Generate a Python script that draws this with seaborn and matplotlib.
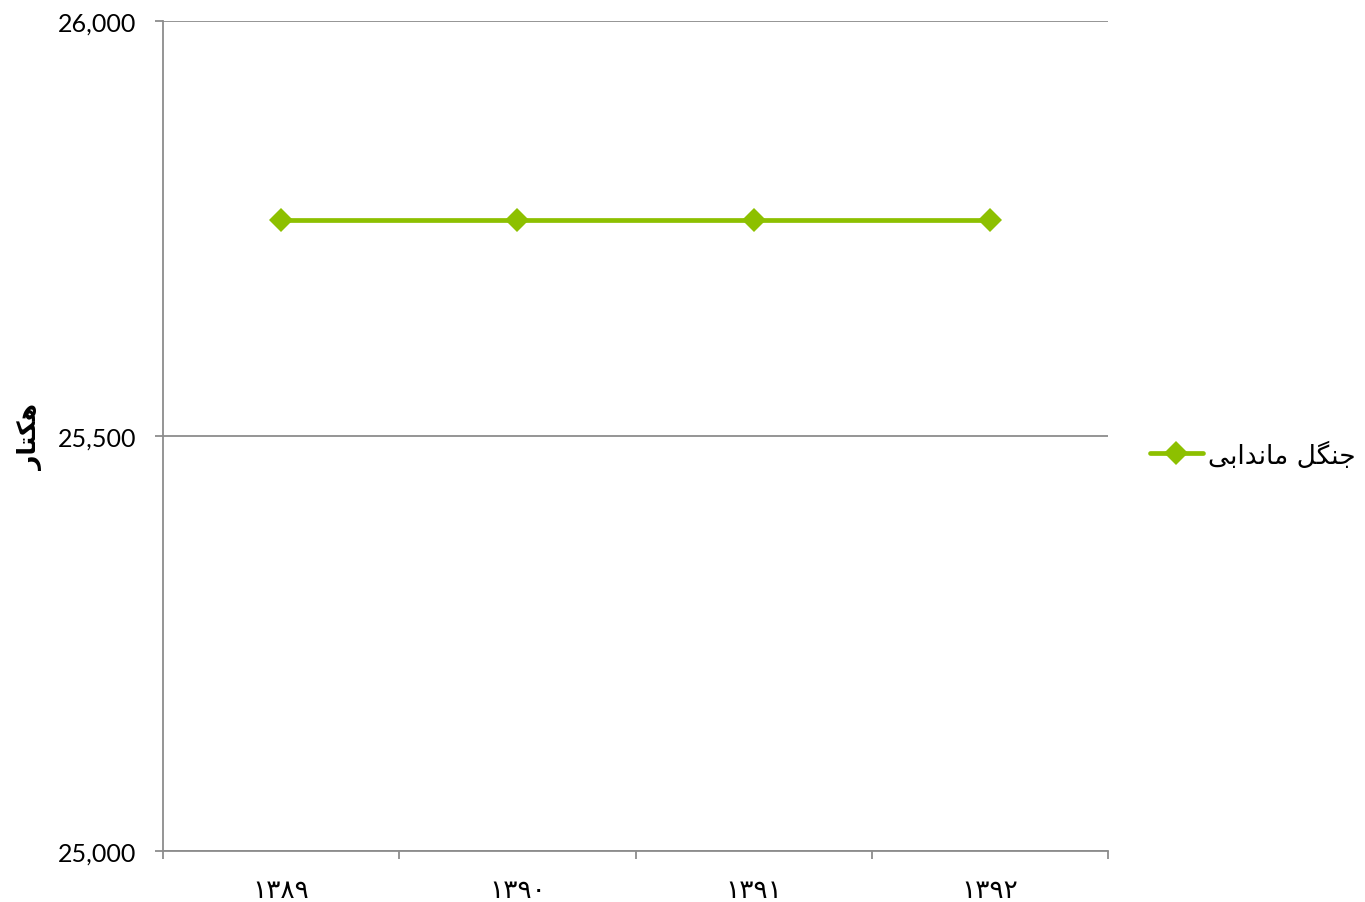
import matplotlib
matplotlib.use("Agg")
import matplotlib.pyplot as plt
import pandas as pd
import seaborn as sns

# data
years = ["۱۳۸۹", "۱۳۹۰", "۱۳۹۱", "۱۳۹۲"]
area_ha = [25760, 25760, 25760, 25760]
series_name = "جنگل ماندابی"
y_label = "هکتار"
y_ticks = [25000, 25500, 26000]

LINE_COLOR = "#8DC000"
GRID_COLOR = "#8C8C8C"

# matplotlib has no Arabic shaping, so pick presentation forms by hand
# (isolated, final, initial, medial)
FORMS = {
    "ا": ("\uFE8D", "\uFE8E", None, None),
    "ب": ("\uFE8F", "\uFE90", "\uFE91", "\uFE92"),
    "ت": ("\uFE95", "\uFE96", "\uFE97", "\uFE98"),
    "ج": ("\uFE9D", "\uFE9E", "\uFE9F", "\uFEA0"),
    "د": ("\uFEA9", "\uFEAA", None, None),
    "ر": ("\uFEAD", "\uFEAE", None, None),
    "ل": ("\uFEDD", "\uFEDE", "\uFEDF", "\uFEE0"),
    "م": ("\uFEE1", "\uFEE2", "\uFEE3", "\uFEE4"),
    "ن": ("\uFEE5", "\uFEE6", "\uFEE7", "\uFEE8"),
    "ه": ("\uFEE9", "\uFEEA", "\uFEEB", "\uFEEC"),
    "ک": ("\uFB8E", "\uFB8F", "\uFB90", "\uFB91"),
    "گ": ("\uFB92", "\uFB93", "\uFB94", "\uFB95"),
    "ی": ("\uFBFC", "\uFBFD", "\uFBFE", "\uFBFF"),
}


def shape_fa(text):
    out = []
    for i, ch in enumerate(text):
        if ch not in FORMS:
            out.append(ch)
            continue
        prev = text[i - 1] if i > 0 else ""
        nxt = text[i + 1] if i + 1 < len(text) else ""
        join_prev = prev in FORMS and FORMS[prev][2] is not None
        join_next = nxt in FORMS and FORMS[ch][2] is not None
        iso, fin, ini, med = FORMS[ch]
        if join_prev and join_next:
            out.append(med)
        elif join_prev:
            out.append(fin)
        elif join_next:
            out.append(ini)
        else:
            out.append(iso)
    return "".join(reversed(out))


sns.set_theme(style="white")
plt.rcParams["font.family"] = ["DejaVu Sans", "Noto Sans"]

df = pd.DataFrame({"year": years, "area": area_ha, "series": shape_fa(series_name)})

fig = plt.figure(figsize=(13.65, 9.03), dpi=100)
ax = fig.add_axes([163 / 1365, 1 - 852 / 903, (1108 - 163) / 1365, (852 - 22) / 903])

sns.lineplot(
    data=df, x="year", y="area", hue="series", palette=[LINE_COLOR],
    marker="D", markersize=12, markeredgewidth=0, linewidth=3.4, ax=ax,
)

ax.set_xlim(-0.5, len(years) - 0.5)
ax.set_ylim(25000, 26000)
ax.set_yticks(y_ticks)
ax.set_yticklabels([f"{v:,}" for v in y_ticks], fontsize=18, color="black",
                   family=["Lato", "DejaVu Sans"])
ax.set_xticks(range(len(years)))
ax.set_xticklabels(years, fontsize=19, color="black")
ax.set_xticks([i - 0.5 for i in range(len(years) + 1)], minor=True)
ax.tick_params(axis="x", which="major", length=0, pad=19)
ax.tick_params(axis="x", which="minor", length=6, width=1.3, color=GRID_COLOR, direction="out", bottom=True)
ax.tick_params(axis="y", length=6, width=1.3, color=GRID_COLOR, direction="out", left=True, pad=13)

ax.grid(axis="y", color=GRID_COLOR, linewidth=1.3)
ax.grid(axis="x", visible=False)
for side in ["top", "right"]:
    ax.spines[side].set_visible(False)
for side in ["left", "bottom"]:
    ax.spines[side].set_color(GRID_COLOR)
    ax.spines[side].set_linewidth(1.3)

ax.set_xlabel("")
ax.set_ylabel("")
fig.text(31 / 1365, 1 - 437 / 903, shape_fa(y_label), rotation=90, ha="center", va="center",
         fontsize=18, fontweight="bold", color="black")

leg = ax.legend(
    loc="center left", bbox_to_anchor=((1150 - 163) / 945, 0.477), frameon=False,
    fontsize=19, handlelength=2.0, handletextpad=0.2, borderpad=0, borderaxespad=0,
)
for t in leg.get_texts():
    t.set_color("black")

fig.savefig("out.png", dpi=100)
